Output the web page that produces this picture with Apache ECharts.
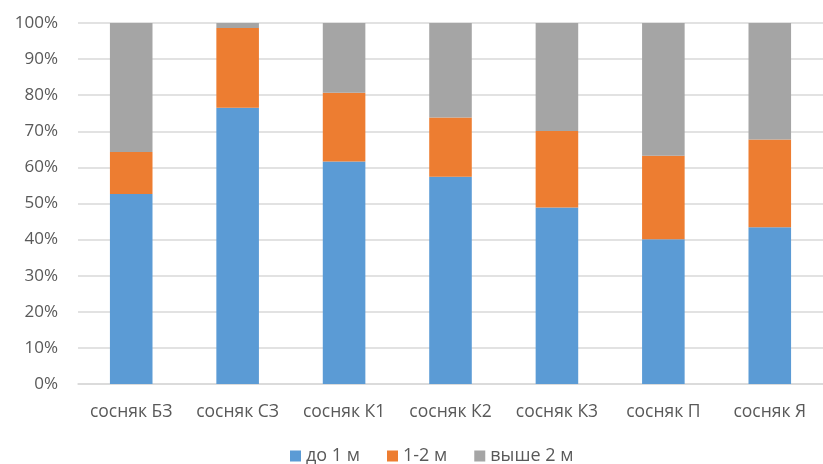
<!DOCTYPE html>
<html><head><meta charset="utf-8">
<script src="https://cdn.jsdelivr.net/npm/echarts@6/dist/echarts.min.js"></script>
<style>html,body{margin:0;padding:0;background:#fff}#c{width:823px;height:464px}</style>
</head><body><div id="c"></div>
<script>
const categories = ['сосняк БЗ','сосняк СЗ','сосняк К1','сосняк К2','сосняк К3','сосняк П','сосняк Я'];
const seriesNames = ['до 1 м','1-2 м','выше 2 м'];
const upTo1 = [52.6, 76.5, 61.6, 57.4, 48.9, 40.1, 43.4];
const from1to2 = [11.7, 22.1, 19.1, 16.4, 21.2, 23.1, 24.3];
const above2 = [35.7, 1.4, 19.3, 26.2, 29.9, 36.8, 32.3];
const colors = ['#5b9bd5','#ed7d31','#a5a5a5'];
const font = 'Open Sans';
const chart = echarts.init(document.getElementById('c'));
const mk = (name, data, i) => ({
  name, type:'bar', stack:'s', data, barWidth:'40%',
  itemStyle:{color:colors[i]}
});
chart.setOption({
  animation:false,
  grid:{left:78, top:23, width:757, height:361},
  legend:{top:447, left:290, itemWidth:11, itemHeight:11, icon:'rect', itemGap:27, padding:0,
    textStyle:{fontFamily:font, fontSize:18, color:'#595959'}},
  xAxis:{type:'category', data:categories,
    axisLine:{lineStyle:{color:'#d9d9d9', width:1.5}}, axisTick:{show:false},
    axisLabel:{interval:0, fontFamily:font, fontSize:17.5, color:'#595959', margin:19}},
  yAxis:{type:'value', min:0, max:100, interval:10,
    axisLabel:{formatter:'{value}%', fontFamily:font, fontSize:17, color:'#595959', margin:20},
    splitLine:{lineStyle:{color:'#d9d9d9', width:1.5}}, axisLine:{show:false}},
  series:[mk(seriesNames[0], upTo1, 0), mk(seriesNames[1], from1to2, 1), mk(seriesNames[2], above2, 2)]
});
</script></body></html>
